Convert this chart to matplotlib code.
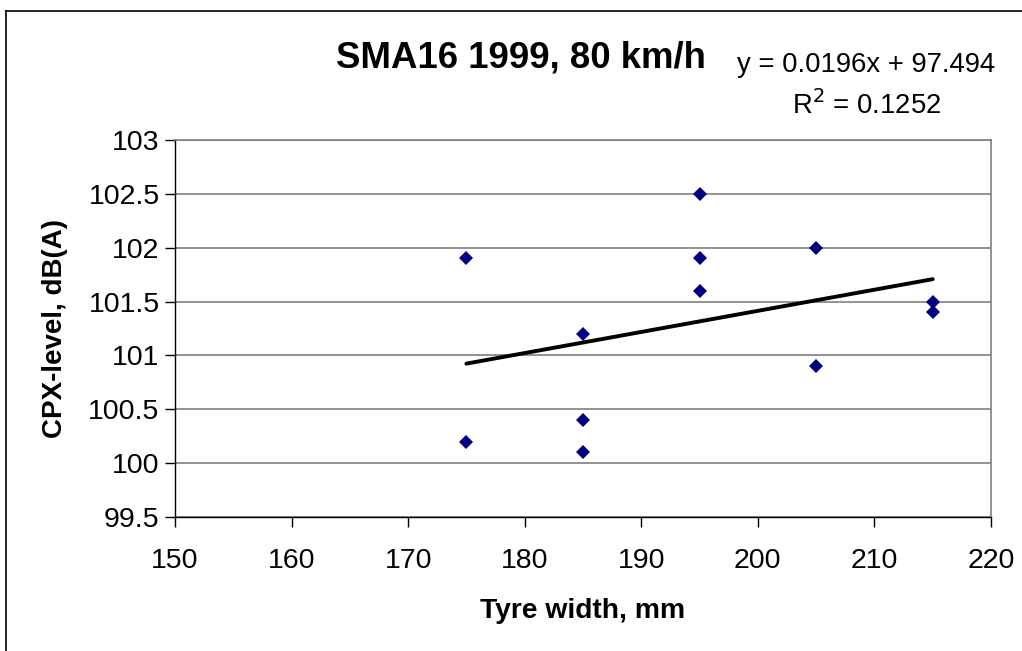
import numpy as np
import matplotlib.pyplot as plt
from matplotlib.lines import Line2D

plt.rcParams['font.family'] = ['Liberation Sans', 'DejaVu Sans']

# 측정값 (타이어 폭, CPX 레벨)
tyre_width = [175, 175, 185, 185, 185, 195, 195, 195, 205, 205, 215, 215]
cpx_level = [101.9, 100.2, 101.2, 100.4, 100.1, 102.5, 101.9, 101.6, 102.0, 100.9, 101.5, 101.4]

# 추세선 계수 (그림의 식)
slope = 0.0196
intercept = 97.494
r2 = 0.1252

x_ticks = [150, 160, 170, 180, 190, 200, 210, 220]
y_ticks = [99.5, 100, 100.5, 101, 101.5, 102, 102.5, 103]

fig = plt.figure(figsize=(10.22, 6.51), dpi=100)
ax = fig.add_axes([175 / 1022, 1 - 517 / 651, (991 - 175) / 1022, (517 - 140) / 651])

# 점
ax.plot(tyre_width, cpx_level, linestyle='none', marker='D', markersize=7.5,
        color='#000080', markeredgewidth=0, zorder=3)

# 추세선
xt = np.array([min(tyre_width), max(tyre_width)])
ax.plot(xt, slope * xt + intercept, color='black', linewidth=2.8,
        solid_capstyle='round', zorder=2)

ax.set_xlim(150, 220)
ax.set_ylim(99.5, 103)
ax.set_xticks(x_ticks)
ax.set_yticks(y_ticks)
ax.set_yticklabels([f'{v:g}' for v in y_ticks])
ax.tick_params(labelsize=20.5, length=7, width=1, color='black', direction='out', pad=4)
ax.tick_params(axis='x', pad=15)
ax.grid(axis='y', color='#808080', linewidth=1.2)
ax.set_axisbelow(True)

for s in ['left', 'bottom']:
    ax.spines[s].set_color('black')
    ax.spines[s].set_linewidth(1)
for s in ['top', 'right']:
    ax.spines[s].set_color('#808080')
    ax.spines[s].set_linewidth(1.2)

ax.set_xlabel('Tyre width, mm', fontsize=20.3, fontweight='bold', labelpad=17.5)
ax.set_ylabel('CPX-level, dB(A)', fontsize=20, fontweight='bold', labelpad=15)

fig.text(521 / 1022, 1 - 58 / 651, 'SMA16 1999, 80 km/h', fontsize=26.4, fontweight='bold',
         ha='center', va='center')
fig.text(866 / 1022, 1 - 65 / 651, f'y = {slope}x + {intercept}', fontsize=19.8,
         ha='center', va='center')
fig.text(867 / 1022, 1 - 105 / 651, f'R$^2$ = {r2}', fontsize=19.8,
         ha='center', va='center')

# 바깥 테두리 (위, 왼쪽)
fig.add_artist(Line2D([6 / 1022, 6 / 1022], [0, 1 - 11 / 651], color='black', linewidth=1.2,
                      transform=fig.transFigure))
fig.add_artist(Line2D([6 / 1022, 1], [1 - 11 / 651, 1 - 11 / 651], color='black', linewidth=1.2,
                      transform=fig.transFigure))

fig.savefig('out.png', dpi=100)
